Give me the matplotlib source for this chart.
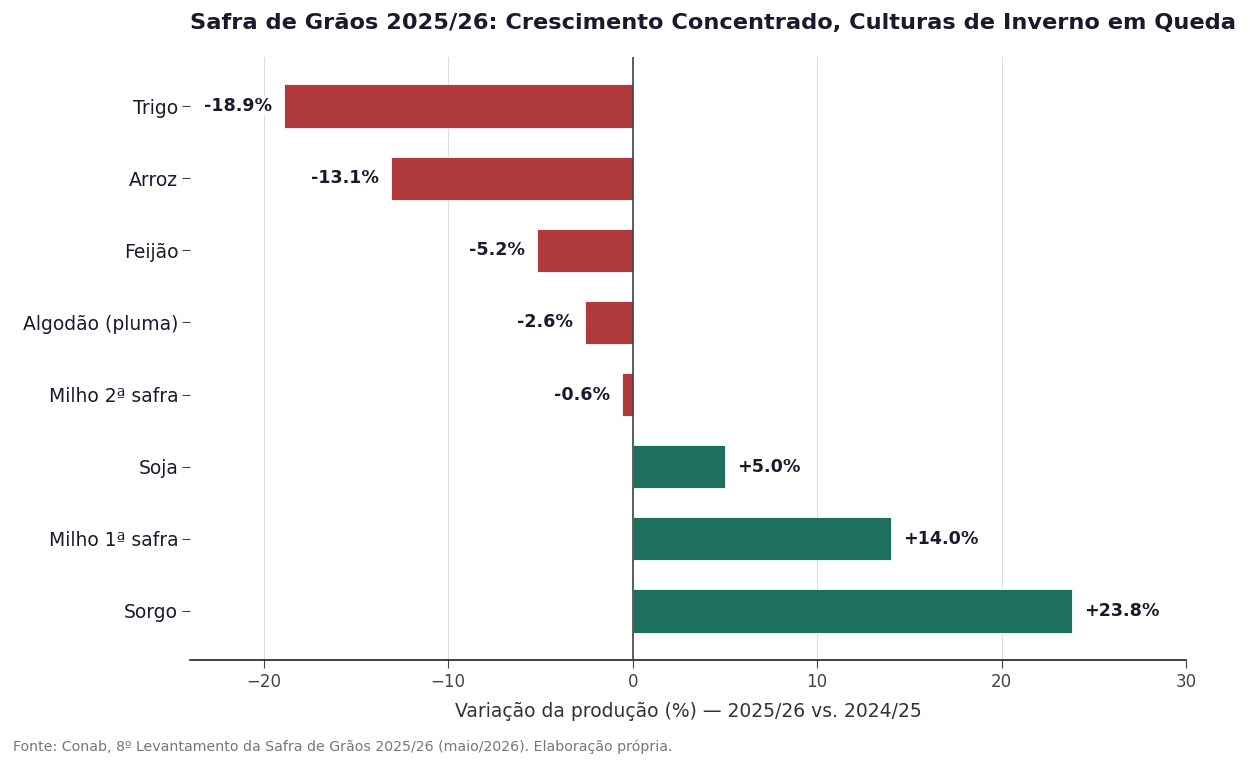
import numpy as np
import matplotlib.pyplot as plt

# Data (variation 2025/26 vs 2024/25, %)
culturas = ["Trigo", "Arroz", "Feijão", "Algodão (pluma)", "Milho 2ª safra",
            "Soja", "Milho 1ª safra", "Sorgo"]
variacao = [-18.9, -13.1, -5.2, -2.6, -0.6, 5.0, 14.0, 23.8]

COR_NEG = "#B0393B"
COR_POS = "#1F6F5F"
COR_TXT = "#1a1a2e"

plt.rcParams['font.family'] = ['DejaVu Sans']

fig = plt.figure(figsize=(12.5, 7.68), dpi=100)
ax = fig.add_axes([190 / 1250, 1 - 660 / 768, (1186 - 190) / 1250, (660 - 57) / 768])

y = np.arange(len(culturas))[::-1]
cores = [COR_POS if v >= 0 else COR_NEG for v in variacao]
ax.barh(y, variacao, height=0.6, color=cores, edgecolor="white", linewidth=0.6, zorder=2)

# value labels
for yi, v in zip(y, variacao):
    off = 0.65 if v >= 0 else -0.65
    ax.text(v + off, yi, f"{v:+.1f}%", ha="left" if v >= 0 else "right", va="center",
            fontsize=12.6, fontweight="bold", color=COR_TXT, zorder=3,
            bbox=dict(facecolor="white", edgecolor="none", alpha=0.7, pad=1))

ax.axvline(0, color="#444444", linewidth=1.2, zorder=3)

ax.set_xlim(-24, 30)
ax.set_ylim(-0.68, len(culturas) - 0.32)
ax.set_yticks(y)
ax.set_yticklabels(culturas, fontsize=13.5, color=COR_TXT)
ax.set_xticks([-20, -10, 0, 10, 20, 30])
ax.set_xticklabels(["\u221220", "\u221210", "0", "10", "20", "30"])
ax.tick_params(axis="x", labelsize=12, colors="#444444", length=6)
ax.tick_params(axis="y", length=6, color="#444444", pad=2.5)
ax.grid(axis="x", color="#dddddd", linewidth=0.8, zorder=0)
ax.set_axisbelow(True)

for s in ["top", "right", "left"]:
    ax.spines[s].set_visible(False)
ax.spines["bottom"].set_color("#222222")
ax.spines["bottom"].set_linewidth(1.2)

ax.set_xlabel("Variação da produção (%) — 2025/26 vs. 2024/25", fontsize=13.5,
              color="#333333", labelpad=8)

fig.text(713 / 1250, 1 - 23 / 768,
         "Safra de Grãos 2025/26: Crescimento Concentrado, Culturas de Inverno em Queda",
         ha="center", va="center", fontsize=16.2, fontweight="bold", color=COR_TXT)

fig.text(13 / 1250, 1 - 747 / 768,
         "Fonte: Conab, 8º Levantamento da Safra de Grãos 2025/26 (maio/2026). Elaboração própria.",
         ha="left", va="center", fontsize=10.15, color="#777777")

fig.savefig("out.png", dpi=100, facecolor="white")
